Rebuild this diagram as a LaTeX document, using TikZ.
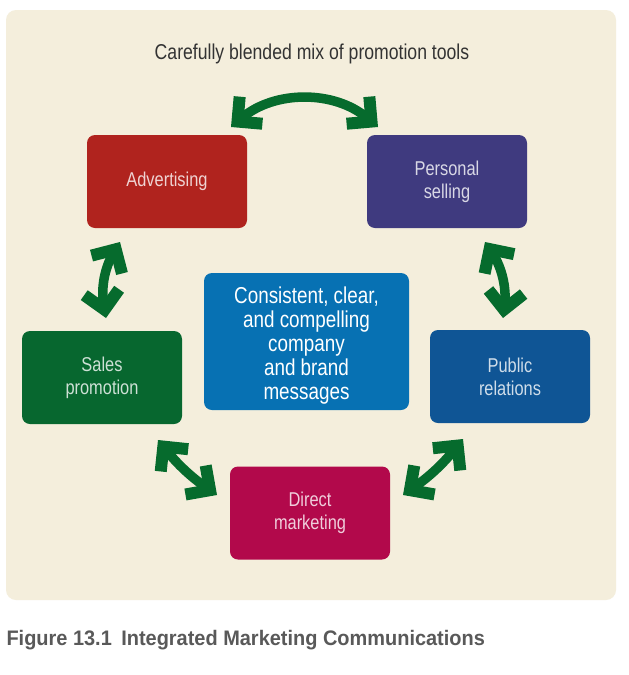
\documentclass[tikz,border=0pt]{standalone}
\usepackage{fontspec}
\setmainfont{Liberation Sans}
\newfontfamily\narrowfont{Liberation Sans}[FakeStretch=0.82]
\newfontfamily\capfont{Liberation Sans}[FakeStretch=0.95]
\usetikzlibrary{arrows.meta}

\definecolor{cream}{HTML}{F4EEDC}
\definecolor{advred}{HTML}{B0231E}
\definecolor{perspurple}{HTML}{3F3A7F}
\definecolor{salesgreen}{HTML}{07672F}
\definecolor{prblue}{HTML}{0F5595}
\definecolor{directpink}{HTML}{B2094B}
\definecolor{coreblue}{HTML}{0771B3}
\definecolor{arrowgreen}{HTML}{066B2D}

\tikzset{
  tool/.style={rounded corners=8pt, minimum width=160pt, minimum height=93pt,
    align=center, text=white, text opacity=.8,
    font=\narrowfont\fontsize{20}{23}\selectfont},
  link/.style={draw=arrowgreen, line width=9.5pt,
    >={Straight Barb[angle=90:25pt, line width=12pt, sharp]}, <->}
}

\begin{document}
\begin{tikzpicture}[x=1pt,y=-1pt]

      \path[use as bounding box, fill=white] (0,0) rectangle (629,675);
      \fill[cream, rounded corners=10pt] (6,10) rectangle (616,600);

      \node[anchor=base, text=black!80, font=\narrowfont\fontsize{21.5}{24}\selectfont]
        (title) at (312,59) {Carefully blended mix of promotion tools};

      \begin{scope}[every node/.style={tool}]
        \node[fill=advred]     (1) at (167,181.5) {Advertising};
        \node[fill=perspurple] (2) at (447,181.5) {Personal\\selling};
        \node[fill=salesgreen] (3) at (102,377.5) {Sales\\promotion};
        \node[fill=prblue]     (4) at (510,376.5) {Public\\relations};
        \node[fill=directpink] (5) at (310,513)   {Direct\\marketing};
      \end{scope}

      \node[rounded corners=8pt, fill=coreblue, minimum width=205pt, minimum height=137pt,
        align=center, text=white, font=\narrowfont\fontsize{23}{24}\selectfont]
        (6) at (306.5,341.5) {\raisebox{0pt}[24pt][0pt]{}Consistent, clear,\\and compelling\\company\\and brand\\messages};

      % arrow ends
      \coordinate (t1)  at (231,127);
      \coordinate (t2)  at (378,127);
      \coordinate (t3)  at (120,242);
      \coordinate (t4)  at (106,318);
      \coordinate (t5)  at (485,242);
      \coordinate (t6)  at (503,318);
      \coordinate (t7)  at (158,440);
      \coordinate (t8)  at (217,495);
      \coordinate (t9)  at (403,495);
      \coordinate (t10) at (463,439);

      \begin{scope}[every path/.style={link}]
        \draw (t1) to[bend left=40] (t2);
        \draw (t3) to[bend right=20] (t4);
        \draw (t5) to[bend left=20] (t6);
        \draw (t7) to[bend right=8] (t8);
        \draw (t9) to[bend right=8] (t10);
      \end{scope}

      \node[anchor=base west, text=black!65, font=\capfont\bfseries\fontsize{21}{24}\selectfont]
        (caption) at (3,645) {Figure 13.1\hspace{0.45em}Integrated Marketing Communications};

    \end{tikzpicture}
\end{document}
